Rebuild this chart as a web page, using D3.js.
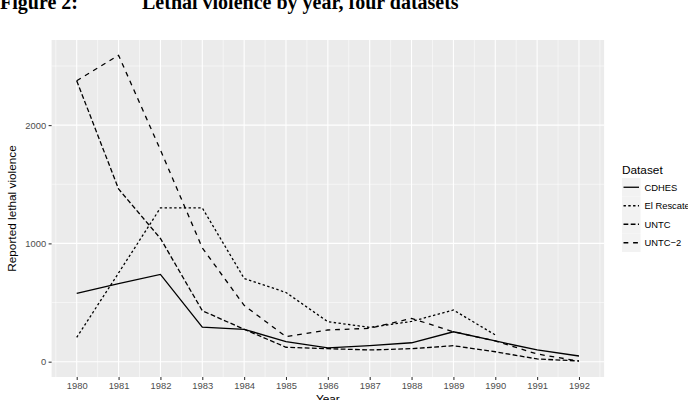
<!doctype html>
<html>
<head>
<meta charset="utf-8">
<style>
  body { margin: 0; background: #fff; }
  svg { display: block; font-family: "Liberation Sans", Arial, sans-serif; }
  .grid-major { stroke: #fff; stroke-width: 1.07; }
  .grid-minor { stroke: #fff; stroke-width: 0.53; }
  .tick text { fill: #4D4D4D; font-size: 9.4px; }
</style>
<script src="https://d3js.org/d3.v7.min.js"></script>
</head>
<body>
<div id="chart"></div>
<script>

// data
var years = [1980, 1981, 1982, 1983, 1984, 1985, 1986, 1987, 1988, 1989, 1990, 1991, 1992];
var datasets = ["CDHES", "El Rescate", "UNTC", "UNTC\u22122"];
var cdhes     = [578, 660, 738, 292, 274, 169, 116, 136, 160, 253, 175, 99, 48];
var elRescate = [205, 750, 1300, 1300, 704, 585, 338, 290, 340, 437, 226, null, null];
var untc      = [2375, 1460, 1042, 431, 274, 122, 110, 99, 110, 135, 84, 23, 6];
var untc2     = [2375, 2590, 1790, 962, 476, 211, 268, 282, 366, 253, 175, 65, 5];
var yTicks = [0, 1000, 2000];

var series = [cdhes, elRescate, untc, untc2];
var dashes = ["none", "2.4,2.4", "4.8,2.4", "4.8,4.8"];

var W = 688, H = 400;
var panel = {left: 51.6, right: 604.1, top: 40, bottom: 377};

var svg = d3.select("#chart").append("svg")
  .attr("width", W)
  .attr("height", H);

// title
svg.append("text")
  .attr("x", 0).attr("y", 9)
  .style("font-family", "'Liberation Serif', 'Times New Roman', serif")
  .style("font-weight", "bold").style("font-size", "20px")
  .text("Figure 2:");
svg.append("text")
  .attr("x", 142).attr("y", 9)
  .style("font-family", "'Liberation Serif', 'Times New Roman', serif")
  .style("font-weight", "bold").style("font-size", "20px")
  .text("Lethal violence by year, four datasets");

var x = d3.scaleLinear()
  .domain([1980 - 0.6, 1992 + 0.6])
  .range([panel.left, panel.right]);

var y = d3.scaleLinear()
  .domain([-129.5, 2719.5])
  .range([panel.bottom, panel.top]);

// panel background
svg.append("rect")
  .attr("x", panel.left).attr("y", panel.top)
  .attr("width", panel.right - panel.left)
  .attr("height", panel.bottom - panel.top)
  .attr("fill", "#EBEBEB");

// minor grid
var yMinor = [500, 1500, 2500];
var xMinor = d3.range(1979.5, 1993, 1);
svg.selectAll("line.ym").data(yMinor).enter().append("line")
  .attr("class", "grid-minor")
  .attr("x1", panel.left).attr("x2", panel.right)
  .attr("y1", function(d) { return y(d); })
  .attr("y2", function(d) { return y(d); });
svg.selectAll("line.xm").data(xMinor).enter().append("line")
  .attr("class", "grid-minor")
  .attr("y1", panel.top).attr("y2", panel.bottom)
  .attr("x1", function(d) { return x(d); })
  .attr("x2", function(d) { return x(d); });

// major grid
svg.selectAll("line.yg").data(yTicks).enter().append("line")
  .attr("class", "grid-major")
  .attr("x1", panel.left).attr("x2", panel.right)
  .attr("y1", function(d) { return y(d); })
  .attr("y2", function(d) { return y(d); });
svg.selectAll("line.xg").data(years).enter().append("line")
  .attr("class", "grid-major")
  .attr("y1", panel.top).attr("y2", panel.bottom)
  .attr("x1", function(d) { return x(d); })
  .attr("x2", function(d) { return x(d); });

// axes
var xAxis = svg.append("g")
  .attr("transform", "translate(0," + panel.bottom + ")")
  .call(d3.axisBottom(x).tickValues(years).tickFormat(d3.format("d")).tickSize(3).tickPadding(2.5));
var yAxis = svg.append("g")
  .attr("transform", "translate(" + panel.left + ",0)")
  .call(d3.axisLeft(y).tickValues(yTicks).tickFormat(d3.format("d")).tickSize(3).tickPadding(2.5));
[xAxis, yAxis].forEach(function(a) {
  a.select(".domain").remove();
  a.selectAll(".tick line").attr("stroke", "#333333").attr("stroke-width", 1.07);
  a.selectAll(".tick text").style("font-family", "'Liberation Sans', Arial, sans-serif");
});

// lines
var line = d3.line()
  .defined(function(d) { return d[1] != null; })
  .x(function(d) { return x(d[0]); })
  .y(function(d) { return y(d[1]); });

series.forEach(function(s, i) {
  svg.append("path")
    .datum(years.map(function(yr, j) { return [yr, s[j]]; }))
    .attr("d", line)
    .attr("fill", "none")
    .attr("stroke", "black")
    .attr("stroke-width", 1.3)
    .attr("stroke-dasharray", dashes[i]);
});

// axis titles
svg.append("text")
  .attr("x", (panel.left + panel.right) / 2).attr("y", 403)
  .attr("text-anchor", "middle")
  .style("font-size", "11.8px")
  .text("Year");
svg.append("text")
  .attr("transform", "translate(15.5," + ((panel.top + panel.bottom) / 2) + ") rotate(-90)")
  .attr("text-anchor", "middle")
  .style("font-size", "11.8px")
  .text("Reported lethal violence");

// legend
var lg = svg.append("g").attr("transform", "translate(622,0)");
lg.append("text")
  .attr("x", 0).attr("y", 173.5)
  .style("font-size", "11.8px")
  .text("Dataset");
var keySize = 18.5, keyTop = 178;
datasets.forEach(function(name, i) {
  var ky = keyTop + i * keySize;
  lg.append("rect")
    .attr("x", 0).attr("y", ky)
    .attr("width", keySize).attr("height", keySize)
    .attr("fill", "#F2F2F2");
  lg.append("line")
    .attr("x1", 1.5).attr("x2", keySize - 1.5)
    .attr("y1", ky + keySize / 2).attr("y2", ky + keySize / 2)
    .attr("stroke", "black")
    .attr("stroke-width", 1.3)
    .attr("stroke-dasharray", dashes[i]);
  lg.append("text")
    .attr("x", keySize + 4).attr("y", ky + keySize / 2 + 3.3)
    .style("font-size", "9.4px")
    .text(name);
});

</script>
</body>
</html>
